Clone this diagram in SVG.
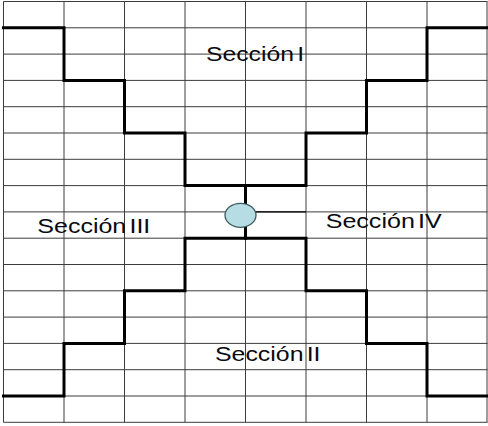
<svg xmlns="http://www.w3.org/2000/svg" width="488" height="426" viewBox="0 0 488 426">
<style>
.grid{stroke:#3c3c3c;stroke-width:1;fill:none}
.wall{stroke:#000;stroke-width:3;fill:none;stroke-linejoin:miter;stroke-linecap:square}
.lbl{font-family:"Liberation Sans",Arial,sans-serif;font-size:20px;fill:#0a0a10;word-spacing:-3px}
</style>
<rect width="488" height="426" fill="#fff"/>
<g id="grid" class="grid">
<path d="M3.5,1.5V422.3M64,1.5V422.3M124.5,1.5V422.3M185,1.5V422.3M245.5,1.5V422.3M306,1.5V422.3M366.5,1.5V422.3M427,1.5V422.3M487,1.5V422.3"/>
<path d="M3.5,1.5H487.5M3.5,27.8H487.5M3.5,54.1H487.5M3.5,80.4H487.5M3.5,106.7H487.5M3.5,133H487.5M3.5,159.3H487.5M3.5,185.6H487.5M3.5,211.9H487.5M3.5,238.2H487.5M3.5,264.5H487.5M3.5,290.8H487.5M3.5,317.1H487.5M3.5,343.4H487.5M3.5,369.7H487.5M3.5,396H487.5M3.5,422.3H487.5"/>
<path d="M245.5,211.9H306" stroke="#000" stroke-width="1.4"/>
</g>
<g id="connectors" class="wall">
<path d="M3.5,27.8H64V80.4H124.5V133H185V185.6H306V133H366.5V80.4H427V27.8H487.5"/>
<path d="M3.5,396H64V343.4H124.5V290.8H185V238.2H306V290.8H366.5V343.4H427V396H487.5"/>
<path d="M245.5,185.6V238.2"/>
</g>
<g id="center">
<ellipse cx="240.5" cy="215.3" rx="15.5" ry="12" fill="#b6dde3" stroke="#3f5b60" stroke-width="1.3"/>
</g>
<g id="seccion-1"><text class="lbl" x="206" y="61" textLength="98" lengthAdjust="spacingAndGlyphs">Sección I</text></g>
<g id="seccion-3"><text class="lbl" x="37.3" y="233.3" textLength="113" lengthAdjust="spacingAndGlyphs">Sección III</text></g>
<g id="seccion-4"><text class="lbl" x="325.7" y="228.3" textLength="116" lengthAdjust="spacingAndGlyphs">Sección IV</text></g>
<g id="seccion-2"><text class="lbl" x="215" y="361" textLength="105.5" lengthAdjust="spacingAndGlyphs">Sección II</text></g>
</svg>
